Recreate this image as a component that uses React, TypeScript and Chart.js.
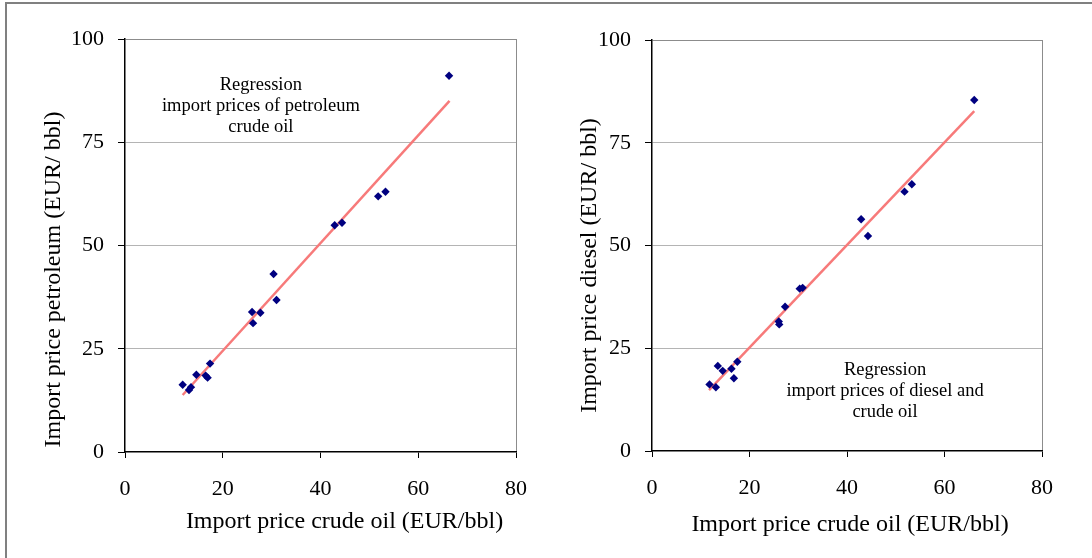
import React, { useEffect, useRef } from "react";
import { Chart, registerables } from "chart.js";

Chart.register(...registerables);

// ---- data ----
const crudeOilPetroleum = [11.8, 13.1, 13.5, 14.6, 16.5, 16.9, 17.4, 26.0, 26.2, 27.7, 30.4, 31.0, 42.9, 44.4, 51.8, 53.3, 66.3];
const petroleumPrice = [16.3, 15.0, 15.7, 18.7, 18.5, 18.0, 21.4, 33.9, 31.2, 33.7, 43.1, 36.8, 54.9, 55.5, 61.9, 63.0, 91.1];
const crudeOilDiesel = [11.8, 13.1, 13.5, 14.5, 16.3, 16.8, 17.5, 26.0, 26.1, 27.3, 30.3, 30.9, 42.9, 44.3, 51.8, 53.3, 66.1];
const dieselPrice = [16.2, 15.5, 20.7, 19.5, 20.0, 17.7, 21.7, 31.5, 30.8, 35.1, 39.5, 39.7, 56.4, 52.3, 63.1, 64.9, 85.4];
const petroleumFitX = [11.8, 66.4];
const petroleumFitY = [13.8, 85.0];
const dieselFitX = [11.7, 66.1];
const dieselFitY = [14.8, 82.7];
const xTickValues = [0, 20, 40, 60, 80];
const yTickValues = [0, 25, 50, 75, 100];
const xTitle = "Import price crude oil (EUR/bbl)";
const yTitlePetroleum = "Import price petroleum (EUR/ bbl)";
const yTitleDiesel = "Import price diesel (EUR/ bbl)";
const notePetroleum = ["Regression", "import prices of petroleum", "crude oil"];
const noteDiesel = ["Regression", "import prices of diesel and", "crude oil"];

const FONT = '"Liberation Serif", "Times New Roman", serif';

const textPlugin = {
  id: "textBlocks",
  afterDraw(chart: any, _args: any, opts: any) {
    const ctx = chart.ctx;
    const a = chart.chartArea;
    const xs = chart.scales.x;
    const ys = chart.scales.y;
    ctx.save();
    ctx.fillStyle = "#000";
    ctx.textAlign = "center";
    ctx.textBaseline = "middle";
    // y title
    ctx.font = `24px ${FONT}`;
    ctx.save();
    ctx.translate(a.left - opts.yTitleOffset, (a.top + a.bottom) / 2 + opts.yTitleDy);
    ctx.rotate(-Math.PI / 2);
    ctx.fillText(opts.yTitle, 0, 0);
    ctx.restore();
    // x title
    ctx.fillText(opts.xTitle, (a.left + a.right) / 2 + opts.xTitleDx, a.bottom + opts.xTitleOffset);
    // regression note
    ctx.font = `18.5px ${FONT}`;
    const cx = xs.getPixelForValue(opts.noteX);
    const cy = ys.getPixelForValue(opts.noteY);
    const lh = 21;
    const n = opts.note.length;
    opts.note.forEach((line: string, i: number) => {
      ctx.fillText(line, cx, cy + (i - (n - 1) / 2) * lh);
    });
    ctx.restore();
  },
};

type P = {
  xs: number[];
  ys: number[];
  fitX: number[];
  fitY: number[];
  yAxisWidth: number;
  xAxisHeight: number;
  padTop: number;
  padRight: number;
  text: any;
};

function makeConfig(p: P): any {
  const tickFont = { family: FONT, size: 22 };
  return {
    type: "scatter",
    data: {
      datasets: [
        {
          label: "points",
          data: p.xs.map((x, i) => ({ x, y: p.ys[i] })),
          pointStyle: "rectRot",
          pointRadius: 4.2,
          backgroundColor: "#000080",
          borderColor: "#000080",
          borderWidth: 0,
          order: 1,
        },
        {
          label: "fit",
          data: p.fitX.map((x, i) => ({ x, y: p.fitY[i] })),
          showLine: true,
          borderColor: "#f77a7a",
          borderWidth: 2.5,
          pointRadius: 0,
          order: 2,
        },
      ],
    },
    options: {
      responsive: false,
      animation: false,
      layout: { padding: { left: 0, top: p.padTop, right: p.padRight, bottom: 0 } },
      plugins: {
        legend: { display: false },
        tooltip: { enabled: false },
        textBlocks: p.text,
      },
      scales: {
        x: {
          type: "linear",
          min: 0,
          max: 80,
          afterBuildTicks: (s: any) => {
            s.ticks = xTickValues.map((v) => ({ value: v }));
          },
          afterFit: (s: any) => {
            s.height = p.xAxisHeight;
          },
          ticks: { font: tickFont, color: "#000", padding: 18, maxRotation: 0, autoSkip: false },
          grid: {
            color: (c: any) => (c.tick && c.tick.value === 80 ? "#8c8c8c" : "rgba(0,0,0,0)"),
            tickColor: "#000",
            tickLength: 6,
            lineWidth: 1,
          },
          border: { color: "#000", width: 1.5 },
        },
        y: {
          type: "linear",
          min: 0,
          max: 100,
          afterBuildTicks: (s: any) => {
            s.ticks = yTickValues.map((v) => ({ value: v }));
          },
          afterFit: (s: any) => {
            s.width = p.yAxisWidth;
          },
          ticks: { font: tickFont, color: "#000", padding: 14 },
          grid: {
            color: (c: any) => {
              const v = c.tick ? c.tick.value : -1;
              if (v === 100) return "#8c8c8c";
              if (v === 0) return "rgba(0,0,0,0)";
              return "#b4b4b4";
            },
            tickColor: "#000",
            tickLength: 7,
            lineWidth: 1,
          },
          border: { color: "#000", width: 1.5 },
        },
      },
    },
    plugins: [textPlugin],
  };
}

function ChartCanvas({ config, left, width }: { config: any; left: number; width: number }) {
  const ref = useRef<HTMLCanvasElement | null>(null);
  useEffect(() => {
    if (!ref.current) return;
    const chart = new Chart(ref.current, config);
    return () => chart.destroy();
  }, [config]);
  return (
    <canvas
      ref={ref}
      width={width}
      height={558}
      style={{ position: "absolute", left, top: 0, width, height: 558 }}
    />
  );
}

const leftConfig = makeConfig({
  xs: crudeOilPetroleum,
  ys: petroleumPrice,
  fitX: petroleumFitX,
  fitY: petroleumFitY,
  yAxisWidth: 125,
  xAxisHeight: 106,
  padTop: 39,
  padRight: 30,
  text: {
    yTitle: yTitlePetroleum,
    yTitleOffset: 71,
    yTitleDy: 34,
    xTitle: xTitle,
    xTitleDx: 24,
    xTitleOffset: 70,
    note: notePetroleum,
    noteX: 27.8,
    noteY: 83.7,
  },
});

const rightConfig = makeConfig({
  xs: crudeOilDiesel,
  ys: dieselPrice,
  fitX: dieselFitX,
  fitY: dieselFitY,
  yAxisWidth: 106,
  xAxisHeight: 107,
  padTop: 40,
  padRight: 50,
  text: {
    yTitle: yTitleDiesel,
    yTitleOffset: 62,
    yTitleDy: 20,
    xTitle: xTitle,
    xTitleDx: 3,
    xTitleOffset: 74,
    note: noteDiesel,
    noteX: 47.8,
    noteY: 14.5,
  },
});

export default function App() {
  return (
    <div
      style={{
        position: "fixed",
        left: 0,
        top: 0,
        width: 1092,
        height: 558,
        background: "#fff",
        overflow: "hidden",
      }}
    >
      <div
        style={{
          position: "absolute",
          left: 5,
          top: 2,
          width: 1300,
          height: 800,
          border: "2px solid #808080",
        }}
      />
      <ChartCanvas config={leftConfig} left={0} width={546} />
      <ChartCanvas config={rightConfig} left={546} width={546} />
    </div>
  );
}
